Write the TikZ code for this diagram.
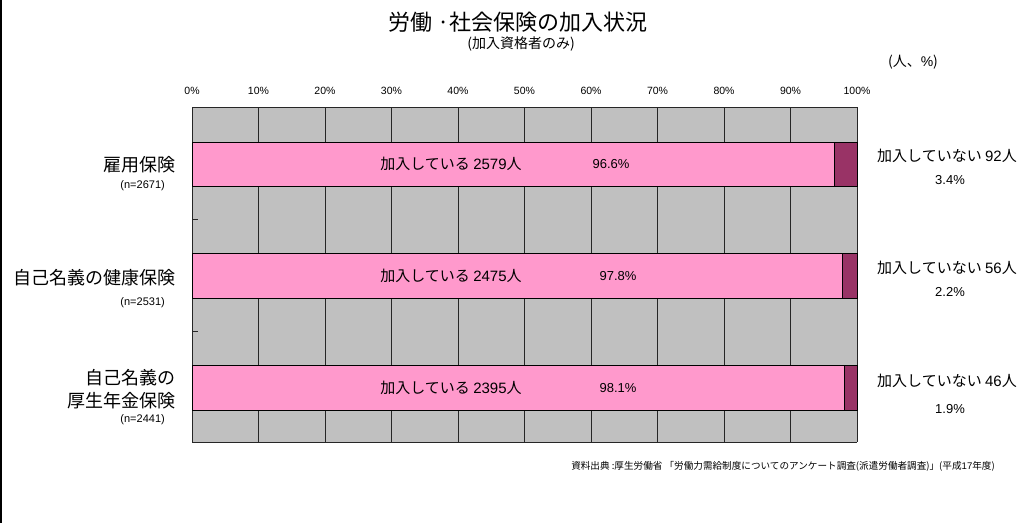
\documentclass[tikz,border=0pt]{standalone}
\usepackage{fontspec}
\setmainfont{Noto Sans CJK JP}
\newfontfamily\lat{Liberation Sans}
\definecolor{plotgray}{HTML}{C0C0C0}
\definecolor{barpink}{HTML}{FF99CC}
\definecolor{bardark}{HTML}{993366}
\begin{document}
\begin{tikzpicture}[x=1pt,y=-1pt,
  txt/.style={inner sep=0pt, text=black},
  titlefont/.style={txt, font=\fontsize{22}{25}\selectfont},
  subfont/.style={txt, font=\fontsize{14}{16}\selectfont},
  axisfont/.style={txt, font=\lat\fontsize{10.5}{12}\selectfont},
  catfont/.style={txt, anchor=east, font=\fontsize{18}{21}\selectfont},
  nfont/.style={txt, anchor=east, font=\lat\fontsize{11}{13}\selectfont},
  inbar/.style={txt, font=\fontsize{15}{17}\selectfont},
  inpct/.style={txt, font=\lat\fontsize{13}{15}\selectfont},
  outlbl/.style={txt, font=\fontsize{15}{17}\selectfont},
  outpct/.style={txt, font=\lat\fontsize{13}{15}\selectfont},
  srcfont/.style={txt, anchor=east, font=\fontsize{9.6}{11}\selectfont},
  gridline/.style={line width=0.8pt, draw=black!85},
  barbox/.style={line width=0.9pt, draw=black}
]
\useasboundingbox (0,0) rectangle (1025,523);
% frame edge
\draw[line width=1.3pt] (1,0) -- (1,523);
% plot area
\fill[plotgray] (192,107) rectangle (857,442);
\foreach \i in {0,...,10}{
  \draw[gridline] ({192+66.5*\i},107) -- ({192+66.5*\i},442);
}
\draw[gridline] (192,107) -- (857,107);
\draw[gridline] (192,442) -- (857,442);
% category ticks
\draw[gridline] (192,219) -- (198,219);
\draw[gridline] (192,331) -- (198,331);
% axis labels
\foreach \i in {0,...,10}{
  \pgfmathtruncatemacro{\v}{10*\i}
  \node[axisfont] (ax\i) at ({192+66.5*\i},91) {\v\%};
}
% bars
\filldraw[barbox, fill=barpink] (192,142) rectangle (834.4,186);
\filldraw[barbox, fill=bardark] (834.4,142) rectangle (857,186);
\filldraw[barbox, fill=barpink] (192,253) rectangle (842.4,298);
\filldraw[barbox, fill=bardark] (842.4,253) rectangle (857,298);
\filldraw[barbox, fill=barpink] (192,365) rectangle (844.4,410);
\filldraw[barbox, fill=bardark] (844.4,365) rectangle (857,410);
% titles
\node[titlefont] (title) at (518,22) {労働 ·社会保険の加入状況};
\node[subfont] (subtitle) at (521,44) {(加入資格者のみ)};
\node[subfont] (unit) at (913,62) {(人、{\lat\%})};
% category labels
\node[catfont] (c1) at (176,165) {雇用保険};
\node[nfont] (n1) at (165,186) {(n=2671)};
\node[catfont] (c2) at (176,278) {自己名義の健康保険};
\node[nfont] (n2) at (165,303) {(n=2531)};
\node[catfont] (c3a) at (176,378) {自己名義の};
\node[catfont] (c3b) at (176,401) {厚生年金保険};
\node[nfont] (n3) at (165,420) {(n=2441)};
% in-bar labels
\node[inbar] (b1) at (451,164) {加入している {\lat 2579}人};
\node[inpct] (p1) at (611,164) {96.6\%};
\node[inbar] (b2) at (451,276) {加入している {\lat 2475}人};
\node[inpct] (p2) at (618,276) {97.8\%};
\node[inbar] (b3) at (451,388) {加入している {\lat 2395}人};
\node[inpct] (p3) at (618,388) {98.1\%};
% outside labels
\node[outlbl] (o1) at (947,156) {加入していない {\lat 92}人};
\node[outpct] (q1) at (950,180) {3.4\%};
\node[outlbl] (o2) at (947,268) {加入していない {\lat 56}人};
\node[outpct] (q2) at (950,292) {2.2\%};
\node[outlbl] (o3) at (947,381) {加入していない {\lat 46}人};
\node[outpct] (q3) at (950,409) {1.9\%};
% source
\node[srcfont] (src) at (995,466) {資料出典 :厚生労働省 「労働力需給制度についてのアンケート調査({\lat}派遣労働者調査)」(平成{\lat 17}年度)};
\end{tikzpicture}
\end{document}
